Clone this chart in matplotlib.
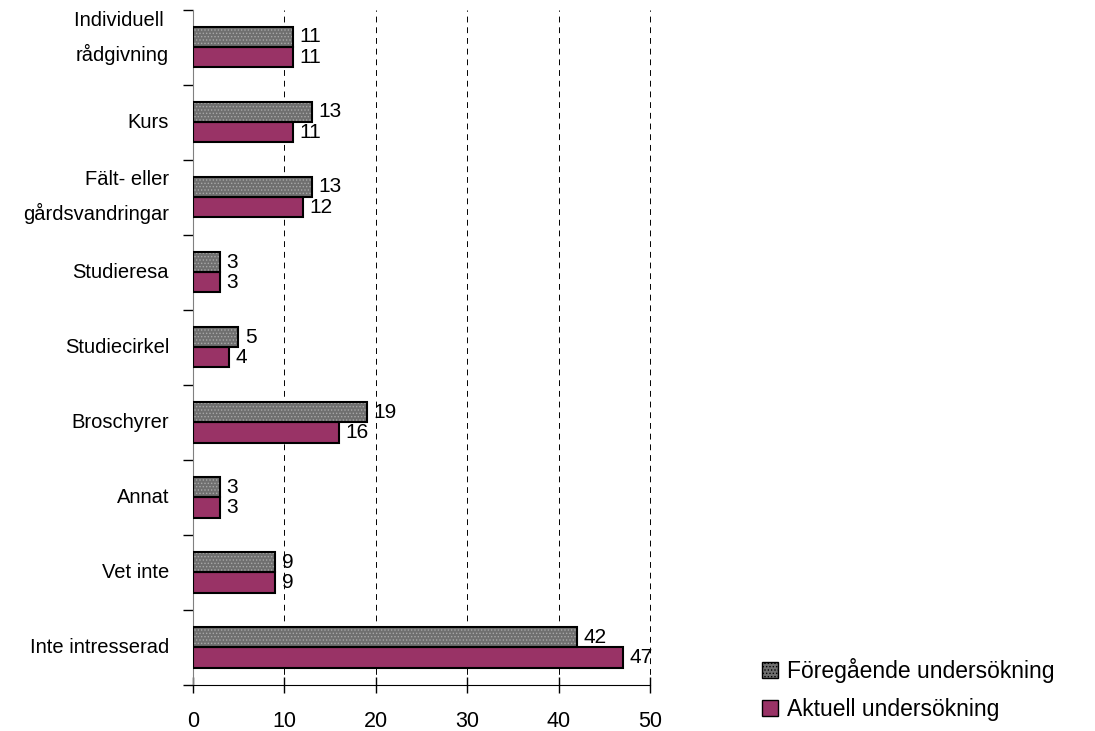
import matplotlib.pyplot as plt
import matplotlib.transforms as mtransforms
import numpy as np
from matplotlib.patches import Patch

plt.rcParams['font.family'] = ['Liberation Sans', 'DejaVu Sans']

# Data (top to bottom as in the chart)
categories = ['Individuell \nrådgivning', 'Kurs', 'Fält- eller\ngårdsvandringar',
              'Studieresa', 'Studiecirkel', 'Broschyrer', 'Annat', 'Vet inte',
              'Inte intresserad']
foregaende = [11, 13, 13, 3, 5, 19, 3, 9, 42]
aktuell = [11, 11, 12, 3, 4, 16, 3, 9, 47]
series_names = ['Föregående undersökning', 'Aktuell undersökning']

grey = '#6f6f6f'
plum = '#993366'

fig = plt.figure(figsize=(10.95, 7.31), dpi=100)
ax = fig.add_axes([0.176, 0.063, 0.418, 0.924])

n = len(categories)
y = np.arange(n)
h = 0.27

# grey bars with a dotted texture
plt.rcParams['hatch.color'] = '#a8a8a8'
plt.rcParams['hatch.linewidth'] = 0.6
ax.barh(y - h / 2, foregaende, height=h, color=grey, hatch='.....', linewidth=0, zorder=3)
ax.barh(y - h / 2, foregaende, height=h, facecolor='none', edgecolor='black', linewidth=1.5, zorder=4)
ax.barh(y + h / 2, aktuell, height=h, color=plum, edgecolor='black', linewidth=1.5, zorder=3)

for yi, v in zip(y, foregaende):
    ax.text(v + 0.7, yi - h / 2, str(v), va='center', ha='left', fontsize=15)
for yi, v in zip(y, aktuell):
    ax.text(v + 0.7, yi + h / 2, str(v), va='center', ha='left', fontsize=15)

ax.set_xlim(0, 50)
ax.set_ylim(n - 0.5, -0.5)
ax.set_xticks(range(0, 51, 10))
ax.tick_params(axis='x', direction='inout', length=12, width=1, labelsize=15.5, pad=13)

ax.set_yticks(y)
ax.set_yticklabels(categories, fontsize=14.5, linespacing=1.85, va='center')
ax.tick_params(axis='y', which='major', length=0, pad=17)
ax.set_yticks(np.arange(-0.5, n, 1), minor=True)
ax.tick_params(axis='y', which='minor', length=7, width=1, direction='out')

# the top label sits a little higher in the original
lbl = ax.get_yticklabels()[0]
lbl.set_transform(lbl.get_transform() + mtransforms.ScaledTranslation(0, 0.09, fig.dpi_scale_trans))

for xv in range(10, 51, 10):
    ax.axvline(xv, color='black', linestyle=(0, (6, 5)), linewidth=0.7, zorder=1, clip_on=False)

ax.spines['top'].set_visible(False)
ax.spines['right'].set_visible(False)
ax.spines['left'].set_color('#808080')

handles = [Patch(facecolor=grey, edgecolor='black', hatch='.....', label=series_names[0]),
           Patch(facecolor=plum, edgecolor='black', label=series_names[1])]
fig.legend(handles=handles, loc='lower left', bbox_to_anchor=(0.677, -0.015), frameon=False,
           fontsize=16.5, handlelength=0.7, handleheight=0.7, handletextpad=0.4, labelspacing=0.65)

fig.savefig('out.png', dpi=100)
